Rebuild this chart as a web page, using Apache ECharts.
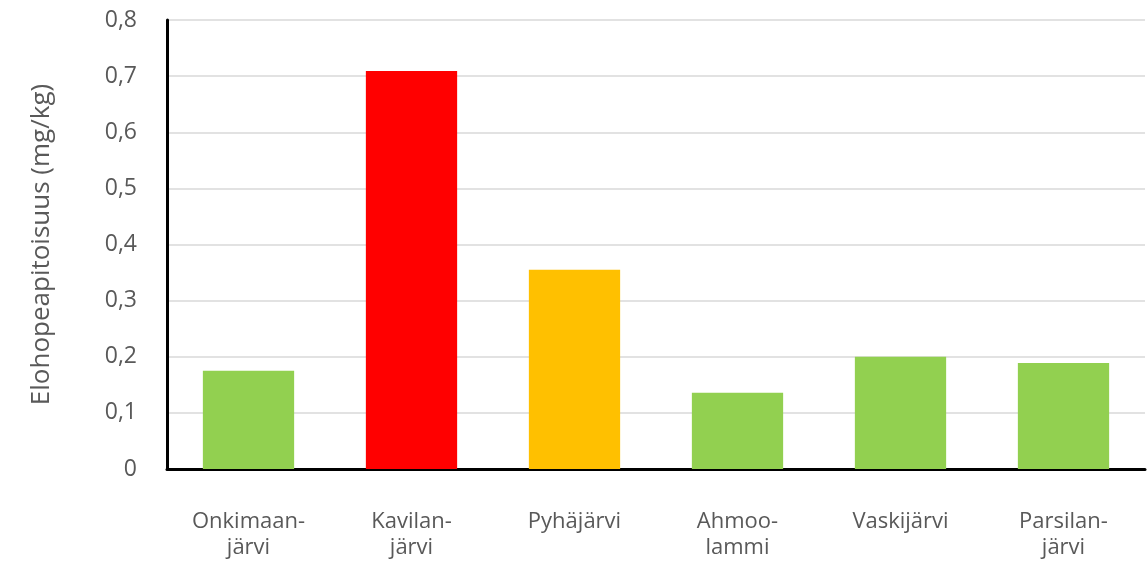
<!DOCTYPE html>
<html>
<head>
<meta charset="utf-8">
<script src="https://cdn.jsdelivr.net/npm/echarts@6/dist/echarts.min.js"></script>
<style>
  html, body { margin: 0; padding: 0; background: #fff; }
  #main { width: 1148px; height: 563px; }
</style>
</head>
<body>
<div id="main"></div>
<script>
// järvet ja elohopeapitoisuudet (mg/kg)
var lakes = ['Onkimaan-\njärvi', 'Kavilan-\njärvi', 'Pyhäjärvi', 'Ahmoo-\nlammi', 'Vaskijärvi', 'Parsilan-\njärvi'];
var mercury = [0.175, 0.709, 0.355, 0.136, 0.2, 0.189];
var barColors = ['#92D050', '#FF0000', '#FFC000', '#92D050', '#92D050', '#92D050'];

var myChart = echarts.init(document.getElementById('main'));

var option = {
  animation: false,
  grid: { left: 167, right: 3, top: 20, bottom: 94 },
  xAxis: {
    type: 'category',
    data: lakes,
    axisLine: { lineStyle: { color: '#000', width: 3 } },
    axisTick: { show: false },
    axisLabel: {
      color: '#595959',
      fontFamily: 'Open Sans',
      fontSize: 22,
      lineHeight: 26,
      margin: 40
    }
  },
  yAxis: {
    type: 'value',
    min: 0,
    max: 0.8,
    interval: 0.1,
    name: 'Elohopeapitoisuus (mg/kg)',
    nameLocation: 'middle',
    nameGap: 112,
    nameTextStyle: { color: '#595959', fontFamily: 'Open Sans', fontSize: 26 },
    axisLine: { show: true, lineStyle: { color: '#000', width: 3 } },
    axisTick: { show: false },
    splitLine: { lineStyle: { color: '#d9d9d9', width: 1.5 } },
    axisLabel: {
      color: '#595959',
      fontFamily: 'Open Sans',
      fontSize: 23,
      margin: 30,
      formatter: function (v) { return String(Math.round(v * 10) / 10).replace('.', ','); }
    }
  },
  series: [{
    type: 'bar',
    barWidth: '56%',
    data: mercury.map(function (v, i) {
      return { value: v, itemStyle: { color: barColors[i] } };
    })
  }]
};

myChart.setOption(option);
</script>
</body>
</html>
